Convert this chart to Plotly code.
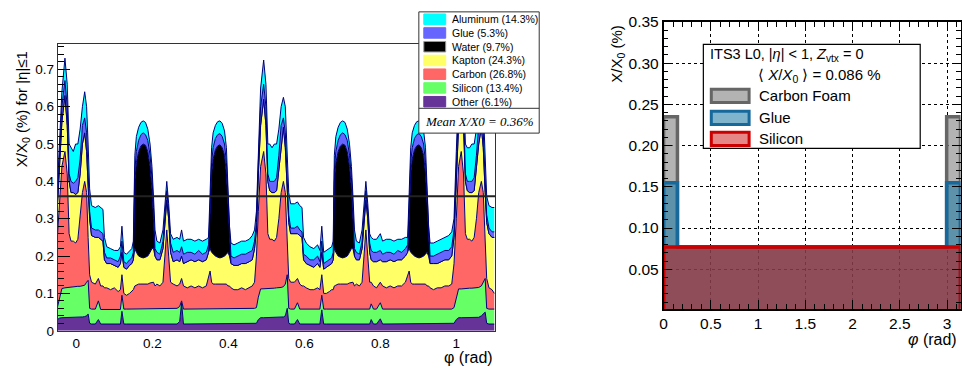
import numpy as np
import plotly.graph_objects as go

# ---------------- left panel: stacked material budget (cumulative tops) -------------
phi = [-0.050, -0.044, -0.038, -0.030, -0.024, -0.019, -0.014, -0.008, -0.002, 0.004,
       0.010, 0.016, 0.022, 0.027, 0.031, 0.035, 0.040, 0.050, 0.058, 0.064,
       0.070, 0.074, 0.080, 0.090, 0.100, 0.110, 0.116, 0.120, 0.125, 0.132,
       0.140, 0.146, 0.150, 0.154, 0.158, 0.164, 0.170, 0.176, 0.182, 0.188,
       0.194, 0.199, 0.203, 0.207, 0.212, 0.220, 0.228, 0.233, 0.238, 0.243,
       0.248, 0.255, 0.265, 0.272, 0.277, 0.282, 0.292, 0.302, 0.312, 0.322,
       0.332, 0.342, 0.348, 0.352, 0.356, 0.360, 0.366, 0.372, 0.378, 0.384,
       0.390, 0.395, 0.399, 0.403, 0.407, 0.415, 0.425, 0.435, 0.445, 0.455,
       0.463, 0.469, 0.474, 0.479, 0.485, 0.493, 0.499, 0.504, 0.509, 0.515,
       0.521, 0.527, 0.533, 0.539, 0.545, 0.550, 0.555, 0.559, 0.564, 0.574,
       0.582, 0.588, 0.594, 0.598, 0.605, 0.615, 0.625, 0.635, 0.641, 0.646,
       0.651, 0.658, 0.666, 0.672, 0.676, 0.679, 0.683, 0.689, 0.695, 0.701,
       0.707, 0.713, 0.719, 0.724, 0.728, 0.732, 0.737, 0.745, 0.752, 0.757,
       0.762, 0.767, 0.772, 0.776, 0.782, 0.790, 0.800, 0.806, 0.816, 0.826,
       0.836, 0.846, 0.856, 0.866, 0.872, 0.876, 0.880, 0.884, 0.890, 0.896,
       0.902, 0.908, 0.914, 0.919, 0.923, 0.927, 0.931, 0.940, 0.950, 0.960,
       0.970, 0.980, 0.988, 0.994, 1.000, 1.006, 1.013, 1.019, 1.024, 1.029,
       1.035, 1.041, 1.047, 1.053, 1.059, 1.066, 1.071, 1.076, 1.080, 1.086,
       1.094, 1.100]

other_top = [.030, .034, .035, .035, .035, .035, .035, .036, .036, .036,
             .037, .037, .038, .040, .045, .020, .018, .018, .030, .018,
             .018, .018, .018, .018, .018, .018, .018, .052, .018, .018,
             .018, .018, .018, .018, .018, .018, .018, .018, .018, .018,
             .018, .018, .018, .018, .018, .018, .018, .018, .020, .018,
             .018, .018, .018, .025, .075, .018, .018, .018, .018, .018,
             .018, .018, .018, .018, .018, .018, .018, .018, .018, .018,
             .018, .018, .018, .018, .018, .018, .018, .018, .018, .018,
             .018, .018, .020, .030, .035, .035, .035, .035, .035, .035,
             .035, .035, .036, .036, .037, .040, .060, .020, .018, .018,
             .030, .018, .018, .018, .018, .018, .018, .018, .018, .056,
             .018, .018, .018, .018, .018, .018, .018, .018, .018, .018,
             .018, .018, .018, .018, .018, .018, .018, .018, .018, .018,
             .020, .018, .018, .030, .018, .018, .032, .018, .018, .018,
             .018, .018, .018, .018, .018, .018, .018, .018, .018, .018,
             .018, .018, .018, .018, .018, .018, .018, .018, .018, .018,
             .018, .018, .018, .020, .030, .035, .035, .035, .035, .035,
             .035, .035, .035, .036, .036, .040, .045, .050, .020, .018,
             .018, .018]

silicon_top = [.062, .090, .113, .115, .116, .117, .117, .118, .118, .119,
               .119, .120, .122, .130, .135, .060, .058, .058, .080, .057,
               .057, .057, .057, .057, .057, .057, .057, .095, .058, .058,
               .058, .058, .058, .058, .058, .058, .058, .058, .058, .058,
               .058, .058, .058, .058, .058, .058, .058, .058, .060, .058,
               .058, .058, .060, .065, .080, .058, .058, .058, .058, .058,
               .058, .058, .058, .058, .058, .058, .058, .058, .058, .058,
               .058, .058, .058, .058, .058, .058, .058, .058, .058, .058,
               .058, .060, .062, .090, .112, .112, .113, .113, .113, .114,
               .114, .115, .115, .116, .118, .125, .150, .060, .058, .058,
               .075, .058, .058, .058, .058, .058, .058, .058, .058, .095,
               .058, .058, .058, .058, .058, .058, .058, .058, .058, .058,
               .058, .058, .058, .058, .058, .058, .058, .058, .058, .058,
               .060, .058, .058, .072, .058, .058, .075, .058, .058, .058,
               .058, .058, .058, .058, .058, .058, .058, .058, .058, .058,
               .058, .058, .058, .058, .058, .058, .058, .058, .058, .058,
               .058, .058, .058, .062, .090, .112, .112, .113, .113, .113,
               .114, .114, .115, .115, .116, .120, .130, .140, .060, .058,
               .058, .058]

carbon_top = [.25, .36, .44, .48, .42, .26, .24, .24, .235, .245,
              .30, .37, .40, .37, .25, .15, .130, .125, .14, .12,
              .12, .115, .115, .110, .115, .105, .11, .15, .10, .095,
              .10, .105, .11, .12, .122, .125, .125, .125, .125, .125,
              .128, .13, .13, .12, .125, .12, .13, .20, .27, .20,
              .13, .125, .12, .125, .14, .12, .115, .12, .115, .12,
              .115, .12, .15, .16, .13, .125, .125, .125, .125, .125,
              .125, .125, .12, .12, .115, .11, .11, .115, .11, .115,
              .12, .13, .20, .32, .44, .48, .42, .26, .245, .245,
              .24, .25, .30, .37, .40, .37, .25, .14, .13, .13,
              .14, .125, .12, .12, .115, .11, .11, .115, .11, .15,
              .10, .10, .105, .11, .11, .12, .122, .125, .125, .125,
              .125, .125, .128, .13, .13, .12, .125, .12, .13, .20,
              .27, .20, .13, .13, .12, .115, .13, .12, .115, .12,
              .115, .12, .12, .13, .15, .16, .13, .125, .125, .125,
              .125, .125, .125, .125, .12, .12, .115, .11, .115, .115,
              .12, .12, .125, .18, .30, .44, .48, .42, .26, .245,
              .245, .24, .25, .30, .37, .40, .37, .25, .14, .115,
              .11, .10]

kapton_top = [.33, .45, .56, .63, .55, .40, .37, .37, .365, .37,
              .42, .50, .53, .48, .37, .30, .255, .25, .25, .245,
              .24, .19, .18, .18, .175, .17, .18, .21, .17, .165,
              .175, .18, .19, .22, .21, .20, .197, .195, .197, .20,
              .21, .22, .22, .20, .19, .19, .22, .30, .35, .30,
              .21, .185, .19, .185, .20, .18, .185, .19, .185, .19,
              .185, .19, .21, .22, .21, .205, .20, .197, .195, .197,
              .20, .205, .21, .20, .18, .175, .175, .18, .18, .185,
              .19, .22, .27, .42, .55, .62, .55, .40, .375, .37,
              .37, .375, .43, .50, .545, .49, .37, .29, .26, .26,
              .26, .255, .25, .19, .18, .175, .17, .18, .17, .21,
              .165, .17, .175, .18, .19, .22, .21, .20, .197, .195,
              .197, .20, .21, .22, .22, .20, .19, .19, .22, .30,
              .35, .30, .21, .19, .185, .185, .19, .185, .185, .19,
              .185, .19, .19, .20, .21, .22, .21, .205, .20, .197,
              .195, .197, .20, .205, .21, .20, .18, .18, .18, .185,
              .19, .19, .20, .25, .40, .55, .62, .55, .40, .375,
              .37, .37, .375, .43, .50, .545, .49, .37, .29, .26,
              .25, .25]

water_top = [.33, .45, .56, .63, .55, .40, .37, .37, .365, .37,
             .42, .50, .53, .48, .37, .30, .255, .25, .25, .245,
             .24, .19, .18, .18, .175, .17, .18, .21, .17, .165,
             .175, .18, .19, .40, .45, .48, .495, .50, .497, .48,
             .44, .38, .30, .20, .19, .19, .22, .30, .35, .30,
             .21, .185, .19, .185, .20, .18, .185, .19, .185, .19,
             .185, .19, .21, .30, .42, .46, .485, .495, .498, .49,
             .47, .42, .33, .23, .18, .175, .175, .18, .18, .185,
             .19, .22, .27, .42, .55, .62, .55, .40, .375, .37,
             .37, .375, .43, .50, .545, .49, .37, .29, .26, .26,
             .26, .255, .25, .19, .18, .175, .17, .18, .17, .21,
             .165, .17, .175, .18, .19, .40, .45, .48, .495, .50,
             .497, .48, .44, .38, .30, .20, .19, .19, .22, .30,
             .35, .30, .21, .19, .185, .185, .19, .185, .185, .19,
             .185, .19, .19, .20, .21, .30, .42, .46, .485, .495,
             .498, .49, .47, .42, .33, .23, .18, .18, .18, .185,
             .19, .19, .20, .25, .40, .55, .62, .55, .40, .375,
             .37, .37, .375, .43, .50, .545, .49, .37, .29, .26,
             .25, .25]

glue_top = [.35, .48, .60, .67, .60, .42, .40, .395, .40, .41,
            .46, .55, .57, .53, .41, .32, .275, .27, .27, .265,
            .26, .21, .195, .195, .19, .185, .20, .24, .185, .18,
            .19, .195, .21, .43, .48, .51, .525, .53, .525, .51,
            .47, .41, .33, .22, .21, .205, .24, .32, .375, .32,
            .235, .21, .215, .21, .225, .205, .21, .21, .205, .215,
            .205, .21, .23, .33, .45, .49, .515, .525, .528, .52,
            .50, .45, .36, .25, .20, .195, .20, .205, .205, .21,
            .215, .24, .29, .45, .60, .66, .60, .42, .40, .40,
            .40, .41, .47, .55, .57, .53, .41, .31, .275, .275,
            .28, .27, .265, .205, .20, .19, .19, .20, .185, .24,
            .18, .185, .19, .195, .21, .43, .48, .51, .525, .53,
            .525, .51, .47, .41, .33, .22, .21, .205, .24, .32,
            .375, .32, .235, .215, .21, .21, .215, .205, .21, .21,
            .205, .215, .21, .22, .23, .33, .45, .49, .515, .525,
            .528, .52, .50, .45, .36, .25, .20, .20, .205, .21,
            .215, .215, .225, .27, .43, .60, .66, .60, .42, .40,
            .40, .40, .41, .47, .55, .57, .53, .41, .31, .275,
            .265, .265]

aluminum_top = [.38, .52, .64, .73, .66, .50, .49, .48, .50, .50,
                .54, .60, .64, .60, .50, .38, .335, .33, .335, .33,
                .325, .25, .225, .22, .215, .215, .225, .28, .21, .205,
                .215, .22, .24, .47, .52, .545, .558, .562, .558, .54,
                .50, .44, .36, .27, .24, .235, .27, .35, .40, .34,
                .26, .245, .25, .245, .27, .24, .245, .245, .24, .245,
                .24, .245, .25, .37, .49, .53, .55, .56, .562, .555,
                .535, .49, .40, .28, .235, .23, .235, .24, .24, .245,
                .255, .27, .32, .50, .65, .725, .66, .50, .50, .49,
                .50, .50, .54, .60, .625, .60, .48, .37, .34, .34,
                .345, .335, .33, .25, .235, .225, .22, .23, .215, .28,
                .21, .215, .22, .225, .24, .47, .52, .545, .558, .562,
                .558, .54, .50, .44, .36, .27, .24, .235, .27, .35,
                .40, .34, .26, .25, .245, .245, .26, .24, .245, .245,
                .24, .245, .245, .25, .25, .37, .49, .53, .55, .56,
                .562, .555, .535, .49, .40, .28, .235, .235, .24, .245,
                .25, .255, .265, .30, .48, .65, .725, .66, .50, .49,
                .49, .50, .50, .54, .60, .625, .60, .48, .36, .335,
                .33, .33]

materials = ["Other", "Silicon", "Carbon", "Kapton", "Water", "Glue", "Aluminum"]
shares = ["6.1%", "13.4%", "26.8%", "24.3%", "9.7%", "5.3%", "14.3%"]
mat_colors = ["#663399", "#66ff66", "#ff6666", "#ffff66", "#000000", "#6666ff", "#00ffff"]
mean_xx0 = 0.36

# ---------------- right panel: ITS3 L0 histograms -------------
bin_edges = [0.0, 0.147, 2.995, 3.1416]
silicon_vals = [0.077, 0.077, 0.077]
glue_vals = [0.078, 0.0, 0.078]
foam_vals = [0.080, 0.0, 0.080]
its3_labels = ["Carbon Foam", "Glue", "Silicon"]

FONT = "Liberation Sans, Arial, Helvetica, sans-serif"
fig = go.Figure()

tops = [other_top, silicon_top, carbon_top, kapton_top, water_top, glue_top, aluminum_top]
for i, (name, top, col) in enumerate(zip(materials, tops, mat_colors)):
    fig.add_trace(go.Scatter(
        x=phi, y=top, mode="lines", name=name,
        line=dict(color="#00007a", width=1),
        fill="tozeroy" if i == 0 else "tonexty", fillcolor=col,
        xaxis="x", yaxis="y", showlegend=False, hoverinfo="skip"))


def step_outline(edges, vals):
    xs, ys = [edges[0]], [0.0]
    for k, v in enumerate(vals):
        xs += [edges[k], edges[k + 1]]
        ys += [v, v]
    xs += [edges[-1], edges[0]]
    ys += [0.0, 0.0]
    return xs, ys


cum_si = np.array(silicon_vals)
cum_glue = cum_si + np.array(glue_vals)
cum_foam = cum_glue + np.array(foam_vals)

hist_styles = [
    (cum_foam, "rgba(128,128,128,0.6)", "#666666"),
    (cum_glue, "rgba(24,117,162,0.55)", "#17699c"),
    (cum_si, "rgba(200,0,0,0.47)", "#cc0000"),
]
for vals, fc, lc in hist_styles:
    xs, ys = step_outline(bin_edges, list(vals))
    fig.add_trace(go.Scatter(x=xs, y=ys, mode="lines", fill="toself", fillcolor=fc,
                             line=dict(color=lc, width=3.5), xaxis="x2", yaxis="y2",
                             showlegend=False, hoverinfo="skip"))


def px_x(p):
    return p / 962.0


def px_y(p):
    return 1 - p / 376.0


shapes = []
annotations = []

shapes.append(dict(type="line", xref="x domain", yref="y", x0=0, x1=1,
                   y0=mean_xx0, y1=mean_xx0, line=dict(color="#222222", width=2)))

# left legend box
shapes.append(dict(type="rect", xref="paper", yref="paper", x0=px_x(417), x1=px_x(538),
                   y0=px_y(130), y1=px_y(3), fillcolor="white",
                   line=dict(color="#333333", width=1), layer="above"))
shapes.append(dict(type="line", xref="paper", yref="paper", x0=px_x(417), x1=px_x(538),
                   y0=px_y(104), y1=px_y(104), line=dict(color="#333333", width=1), layer="above"))
order = list(range(len(materials)))[::-1]
for r, idx in enumerate(order):
    cy = 10.7 + r * 14.4
    shapes.append(dict(type="rect", xref="paper", yref="paper", x0=px_x(422), x1=px_x(444),
                       y0=px_y(cy + 5.5), y1=px_y(cy - 5.5), fillcolor=mat_colors[idx],
                       line=dict(color="#999999" if materials[idx] == "Water" else mat_colors[idx], width=1),
                       layer="above"))
    annotations.append(dict(xref="paper", yref="paper", x=px_x(448), y=px_y(cy),
                            xanchor="left", yanchor="middle", showarrow=False,
                            text=f"{materials[idx]} ({shares[idx]})",
                            font=dict(family=FONT, size=10.5, color="black")))
annotations.append(dict(xref="paper", yref="paper", x=px_x(478), y=px_y(117.5),
                        xanchor="center", yanchor="middle", showarrow=False,
                        text=f"<i>Mean X/X0 = {mean_xx0:.2f}%</i>",
                        font=dict(family="Liberation Serif, Times New Roman, serif", size=13, color="black")))

# left axis titles
annotations.append(dict(xref="paper", yref="paper", x=px_x(18), y=px_y(105),
                        xanchor="center", yanchor="middle", showarrow=False, textangle=-90,
                        text="X/X<sub>0</sub> (%) for |η|≤1",
                        font=dict(family=FONT, size=15, color="black")))
annotations.append(dict(xref="paper", yref="paper", x=px_x(494), y=px_y(365),
                        xanchor="right", yanchor="middle", showarrow=False,
                        text="φ (rad)", font=dict(family=FONT, size=16, color="black")))

# right legend box
shapes.append(dict(type="rect", xref="paper", yref="paper", x0=px_x(703), x1=px_x(921),
                   y0=px_y(146), y1=px_y(37), fillcolor="white",
                   line=dict(color="black", width=1.2), layer="above"))
annotations.append(dict(xref="paper", yref="paper", x=px_x(708), y=px_y(48),
                        xanchor="left", yanchor="middle", showarrow=False,
                        text="ITS3 L0, |<i>η</i>| &lt; 1, <i>Z</i><sub>vtx</sub> = 0",
                        font=dict(family=FONT, size=14.5, color="black")))
annotations.append(dict(xref="paper", yref="paper", x=px_x(756), y=px_y(70),
                        xanchor="left", yanchor="middle", showarrow=False,
                        text="⟨ <i>X</i>/<i>X</i><sub>0</sub> ⟩ = 0.086 %",
                        font=dict(family=FONT, size=15, color="black")))
sw_styles = [("#b3b3b3", "#666666"), ("#80b3cc", "#17699c"), ("#e58787", "#cc0000")]
rows = [91, 114, 136]
for lab, (fc, lc), cy in zip(its3_labels, sw_styles, rows):
    shapes.append(dict(type="rect", xref="paper", yref="paper", x0=px_x(711), x1=px_x(749),
                       y0=px_y(cy + 7), y1=px_y(cy - 7), fillcolor=fc,
                       line=dict(color=lc, width=3), layer="above"))
    annotations.append(dict(xref="paper", yref="paper", x=px_x(757), y=px_y(cy),
                            xanchor="left", yanchor="middle", showarrow=False, text=lab,
                            font=dict(family=FONT, size=15, color="black")))

# right axis titles
annotations.append(dict(xref="paper", yref="paper", x=px_x(617), y=px_y(47),
                        xanchor="center", yanchor="middle", showarrow=False, textangle=-90,
                        text="X/X<sub>0</sub> (%)", font=dict(family=FONT, size=15, color="black")))
annotations.append(dict(xref="paper", yref="paper", x=px_x(960), y=px_y(346),
                        xanchor="right", yanchor="middle", showarrow=False,
                        text="<i>φ</i> (rad)", font=dict(family=FONT, size=16, color="black")))

fig.update_layout(
    width=962, height=376, margin=dict(l=0, r=0, t=0, b=0),
    paper_bgcolor="white", plot_bgcolor="white", showlegend=False,
    shapes=shapes, annotations=annotations,
    xaxis=dict(domain=[px_x(54), px_x(494)], range=[-0.049, 1.103],
               tickmode="array", tickvals=[0, 0.2, 0.4, 0.6, 0.8, 1.0],
               ticktext=["0", "0.2", "0.4", "0.6", "0.8", "1"], ticks="",
               showline=True, mirror=True, linecolor="#333333", linewidth=1,
               showgrid=False, zeroline=False,
               tickfont=dict(family=FONT, size=13.5, color="black")),
    yaxis=dict(domain=[px_y(337), px_y(37)], range=[0, 0.767], tick0=0, dtick=0.1,
               ticks="inside", ticklen=12, tickcolor="black",
               minor=dict(dtick=0.02, ticks="inside", ticklen=6, tickcolor="black"),
               showline=True, mirror=True, linecolor="#333333", linewidth=1,
               showgrid=False, zeroline=False,
               tickfont=dict(family=FONT, size=13.5, color="black")),
    xaxis2=dict(domain=[px_x(663), px_x(961.5)], range=[0, 3.1416], anchor="y2",
                tick0=0, dtick=0.5, ticks="inside", ticklen=9, tickcolor="black",
                minor=dict(dtick=0.1, ticks="inside", ticklen=5, tickcolor="black"),
                showline=True, mirror="ticks", linecolor="black", linewidth=1.5,
                showgrid=True, gridcolor="black", griddash="dot", gridwidth=1,
                zeroline=False, tickfont=dict(family=FONT, size=15.5, color="black")),
    yaxis2=dict(domain=[px_y(314), px_y(13.6)], range=[0.002, 0.35], anchor="x2",
                tick0=0, dtick=0.05, tickformat=".2f", ticks="inside", ticklen=9,
                tickcolor="black",
                minor=dict(dtick=0.01, ticks="inside", ticklen=5, tickcolor="black"),
                showline=True, mirror="ticks", linecolor="black", linewidth=1.5,
                showgrid=True, gridcolor="black", griddash="dot", gridwidth=1,
                zeroline=False, tickfont=dict(family=FONT, size=15.5, color="black")),
)

fig.write_html("out.html", config={"displayModeBar": False},
               post_script="document.body.style.margin='0';document.body.style.overflow='hidden';")
